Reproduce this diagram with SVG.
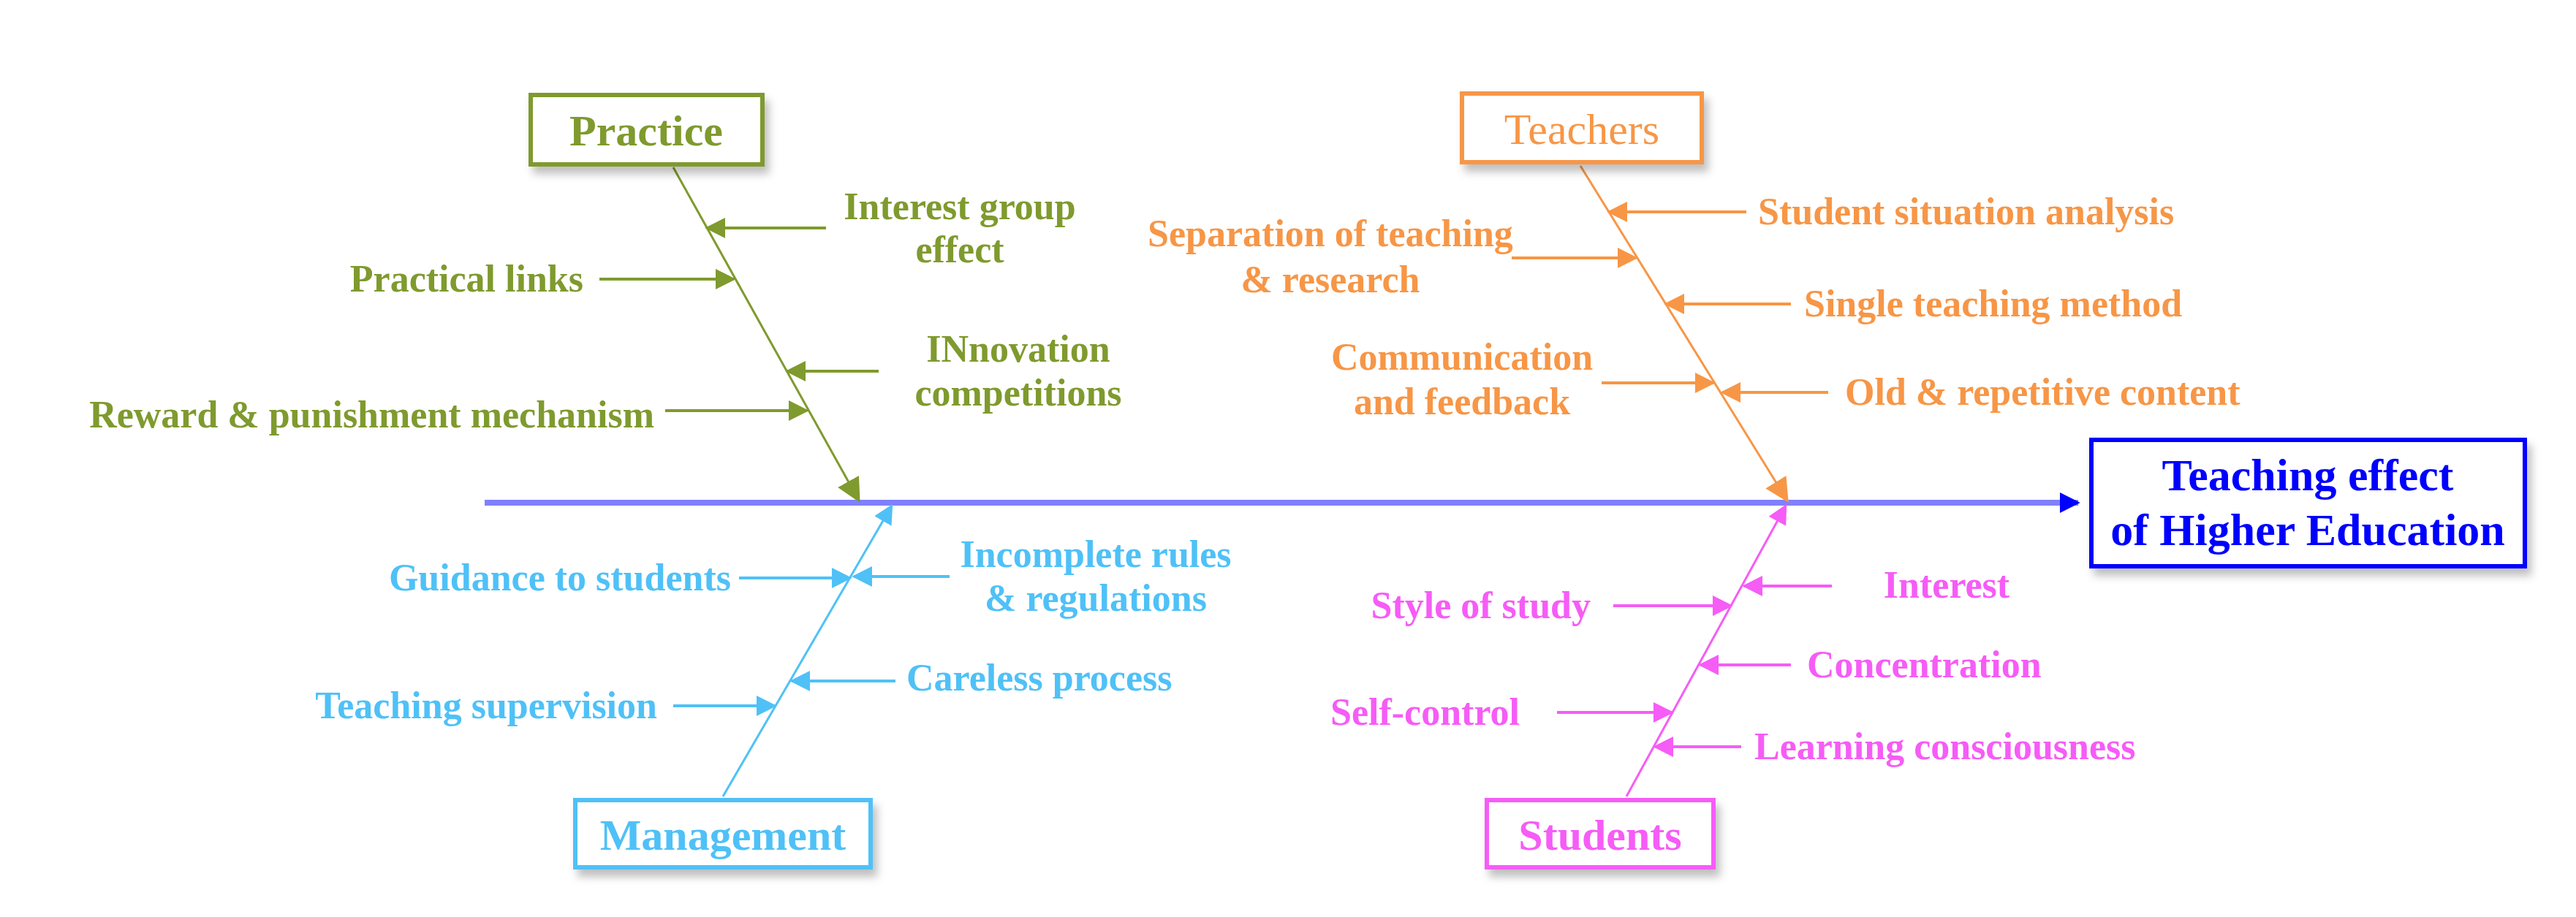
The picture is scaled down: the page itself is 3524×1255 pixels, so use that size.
<svg xmlns="http://www.w3.org/2000/svg" width="3524" height="1255" viewBox="0 0 3524 1255">
<defs>
<style>
text{font-family:"Liberation Serif","Times New Roman",serif;font-weight:bold;font-size:52px}
.t{font-size:60px}
.g{fill:#7f9a2e}.o{fill:#f79646}.b{fill:#4fc1f7}.p{fill:#f65cf6}
.gl{stroke:#7f9a2e}.ol{stroke:#f79646}.bl{stroke:#4fc1f7}.pl{stroke:#f65cf6}
.box{fill:#fff;stroke-width:6}
.arr{stroke-width:4;fill:none}
.bone{stroke-width:3;fill:none}
</style>
<marker id="mg" viewBox="0 0 10 10" refX="9" refY="5" markerWidth="7" markerHeight="7" orient="auto"><path d="M0,0L10,5L0,10z" fill="#7f9a2e"/></marker>
<marker id="mo" viewBox="0 0 10 10" refX="9" refY="5" markerWidth="7" markerHeight="7" orient="auto"><path d="M0,0L10,5L0,10z" fill="#f79646"/></marker>
<marker id="mb" viewBox="0 0 10 10" refX="9" refY="5" markerWidth="7" markerHeight="7" orient="auto"><path d="M0,0L10,5L0,10z" fill="#4fc1f7"/></marker>
<marker id="mp" viewBox="0 0 10 10" refX="9" refY="5" markerWidth="7" markerHeight="7" orient="auto"><path d="M0,0L10,5L0,10z" fill="#f65cf6"/></marker>
<marker id="mv" viewBox="0 0 10 10" refX="9" refY="5" markerWidth="3.5" markerHeight="4" orient="auto"><path d="M0,0L10,5L0,10z" fill="#0000ff"/></marker>
<marker id="mg2" viewBox="0 0 10 10" refX="9" refY="5" markerWidth="11" markerHeight="11" orient="auto"><path d="M0,0L10,5L0,10z" fill="#7f9a2e"/></marker>
<marker id="mo2" viewBox="0 0 10 10" refX="9" refY="5" markerWidth="11" markerHeight="11" orient="auto"><path d="M0,0L10,5L0,10z" fill="#f79646"/></marker>
<marker id="mb2" viewBox="0 0 10 10" refX="9" refY="5" markerWidth="9" markerHeight="9" orient="auto"><path d="M0,0L10,5L0,10z" fill="#4fc1f7"/></marker>
<marker id="mp2" viewBox="0 0 10 10" refX="9" refY="5" markerWidth="9" markerHeight="9" orient="auto"><path d="M0,0L10,5L0,10z" fill="#f65cf6"/></marker>
<filter id="sh" x="-10%" y="-10%" width="130%" height="140%"><feDropShadow dx="6" dy="10" stdDeviation="6" flood-opacity="0.25"/></filter>
</defs>
<rect width="3524" height="1255" fill="#fff"/>
<g id="connectors">
<line x1="663" y1="688" x2="2843" y2="688" stroke="#8080ff" stroke-width="8" marker-end="url(#mv)"/>
<line class="bone gl" x1="921" y1="229" x2="1175" y2="685" marker-end="url(#mg2)"/>
<line class="bone ol" x1="2162" y1="227" x2="2445" y2="685" marker-end="url(#mo2)"/>
<line class="bone bl" x1="989" y1="1090" x2="1220" y2="692" marker-end="url(#mb2)"/>
<line class="bone pl" x1="2225" y1="1090" x2="2443" y2="692" marker-end="url(#mp2)"/>
<line class="arr gl" x1="1130" y1="312" x2="967" y2="312" marker-end="url(#mg)"/>
<line class="arr gl" x1="820" y1="382" x2="1004" y2="382" marker-end="url(#mg)"/>
<line class="arr gl" x1="1202" y1="508" x2="1077" y2="508" marker-end="url(#mg)"/>
<line class="arr gl" x1="910" y1="562" x2="1104" y2="562" marker-end="url(#mg)"/>
<line class="arr ol" x1="2389" y1="290" x2="2201" y2="290" marker-end="url(#mo)"/>
<line class="arr ol" x1="2068" y1="353" x2="2238" y2="353" marker-end="url(#mo)"/>
<line class="arr ol" x1="2450" y1="416" x2="2279" y2="416" marker-end="url(#mo)"/>
<line class="arr ol" x1="2191" y1="524" x2="2344" y2="524" marker-end="url(#mo)"/>
<line class="arr ol" x1="2501" y1="537" x2="2356" y2="537" marker-end="url(#mo)"/>
<line class="arr bl" x1="1011" y1="791" x2="1163" y2="791" marker-end="url(#mb)"/>
<line class="arr bl" x1="1299" y1="789" x2="1168" y2="789" marker-end="url(#mb)"/>
<line class="arr bl" x1="1225" y1="932" x2="1083" y2="932" marker-end="url(#mb)"/>
<line class="arr bl" x1="921" y1="966" x2="1060" y2="966" marker-end="url(#mb)"/>
<line class="arr pl" x1="2506" y1="802" x2="2386" y2="802" marker-end="url(#mp)"/>
<line class="arr pl" x1="2207" y1="829" x2="2368" y2="829" marker-end="url(#mp)"/>
<line class="arr pl" x1="2450" y1="910" x2="2326" y2="910" marker-end="url(#mp)"/>
<line class="arr pl" x1="2130" y1="975" x2="2287" y2="975" marker-end="url(#mp)"/>
<line class="arr pl" x1="2382" y1="1022" x2="2264" y2="1022" marker-end="url(#mp)"/>
</g>
<g id="effect"><rect x="2861" y="602" width="593" height="173" fill="#fff" stroke="#0000ff" stroke-width="6" filter="url(#sh)"/>
<text x="3157" y="671" text-anchor="middle" style="font-size:62px" fill="#0000ff">Teaching effect</text>
<text x="3157" y="746" text-anchor="middle" style="font-size:62px" fill="#0000ff">of Higher Education</text></g>
<g id="practice"><rect class="box gl" x="726" y="130" width="317" height="95" filter="url(#sh)"/><text class="t g" x="884" y="199" text-anchor="middle">Practice</text></g>
<g id="teachers"><rect class="box ol" x="2000" y="128" width="328" height="94" filter="url(#sh)"/><text class="t o" x="2164" y="197" text-anchor="middle" style="font-weight:normal">Teachers</text></g>
<g id="management"><rect class="box bl" x="787" y="1095" width="404" height="92" filter="url(#sh)"/><text class="t b" x="989" y="1163" text-anchor="middle">Management</text></g>
<g id="students"><rect class="box pl" x="2034" y="1095" width="310" height="92" filter="url(#sh)"/><text class="t p" x="2189" y="1163" text-anchor="middle">Students</text></g>
<g id="practice-causes">
<text class="g" x="1313" y="300" text-anchor="middle">Interest group</text><text class="g" x="1313" y="359" text-anchor="middle">effect</text>
<text class="g" x="798" y="399" text-anchor="end">Practical links</text>
<text class="g" x="1393" y="495" text-anchor="middle">INnovation</text><text class="g" x="1393" y="555" text-anchor="middle">competitions</text>
<text class="g" x="895" y="585" text-anchor="end">Reward &amp; punishment mechanism</text>
</g>
<g id="teacher-causes">
<text class="o" x="2405" y="307">Student situation analysis</text>
<text class="o" x="1820" y="337" text-anchor="middle">Separation of teaching</text><text class="o" x="1820" y="400" text-anchor="middle">&amp; research</text>
<text class="o" x="2468" y="433">Single teaching method</text>
<text class="o" x="2000" y="506" text-anchor="middle">Communication</text><text class="o" x="2000" y="567" text-anchor="middle">and feedback</text>
<text class="o" x="2524" y="554">Old &amp; repetitive content</text>
</g>
<g id="management-causes">
<text class="b" x="1000" y="808" text-anchor="end">Guidance to students</text>
<text class="b" x="1499" y="776" text-anchor="middle">Incomplete rules</text><text class="b" x="1499" y="836" text-anchor="middle">&amp; regulations</text>
<text class="b" x="1240" y="945">Careless process</text>
<text class="b" x="899" y="983" text-anchor="end">Teaching supervision</text>
</g>
<g id="student-causes">
<text class="p" x="2663" y="818" text-anchor="middle">Interest</text>
<text class="p" x="2176" y="846" text-anchor="end">Style of study</text>
<text class="p" x="2472" y="927">Concentration</text>
<text class="p" x="2079" y="992" text-anchor="end">Self-control</text>
<text class="p" x="2400" y="1039">Learning consciousness</text>
</g>
</svg>
